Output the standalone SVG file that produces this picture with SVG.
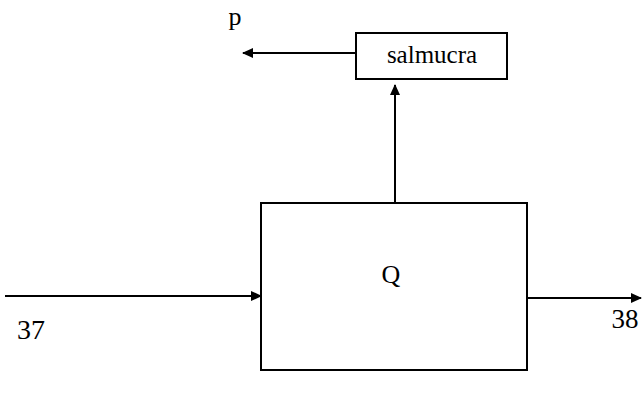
<svg xmlns="http://www.w3.org/2000/svg" width="642" height="402" viewBox="0 0 642 402">
<style>
.box{fill:#fff;stroke:#000;stroke-width:2}
.ln{fill:none;stroke:#000;stroke-width:2}
text{font-family:'Liberation Serif','Times New Roman','DejaVu Serif',serif;fill:#000}
</style>
<defs>
<marker id="ah" markerWidth="11" markerHeight="10" refX="10" refY="5" orient="auto" markerUnits="userSpaceOnUse">
<path d="M0,0 L11,5 L0,10 Z" fill="#000"/>
</marker>
</defs>
<rect width="642" height="402" fill="#fff"/>
<g id="connectors">
<line class="ln" x1="356" y1="53" x2="243" y2="53" marker-end="url(#ah)"/>
<line class="ln" x1="395" y1="203" x2="395" y2="85" marker-end="url(#ah)"/>
<line class="ln" x1="5" y1="296" x2="261" y2="296" marker-end="url(#ah)"/>
<line class="ln" x1="527" y1="298" x2="641" y2="298" marker-end="url(#ah)"/>
</g>
<g id="salmucra">
<rect class="box" x="356" y="33" width="151" height="46"/>
<text x="432" y="63" font-size="25" text-anchor="middle">salmucra</text>
</g>
<g id="Q">
<rect class="box" x="261" y="203" width="266" height="167"/>
<text x="391" y="283" font-size="26" text-anchor="middle">Q</text>
</g>
<g id="labels">
<text x="235" y="25" font-size="26" text-anchor="middle">p</text>
<text x="31" y="339" font-size="28" text-anchor="middle">37</text>
<text x="625" y="328" font-size="27" text-anchor="middle">38</text>
</g>
</svg>
